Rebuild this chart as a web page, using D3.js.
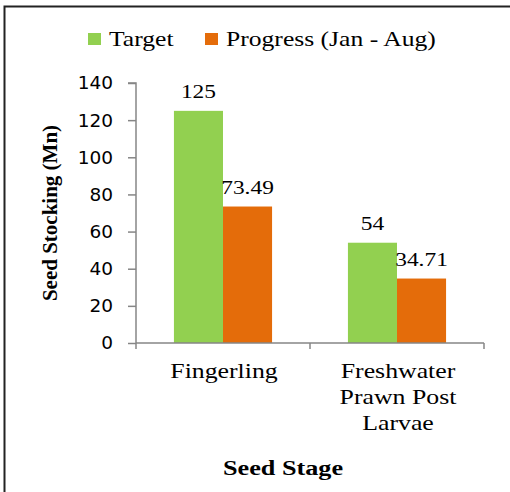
<!DOCTYPE html>
<html>
<head>
<meta charset="utf-8">
<script src="https://cdn.jsdelivr.net/npm/d3@7"></script>
<style>
  body { margin: 0; background: #fff; }
  svg { display: block; }
</style>
</head>
<body>
<svg id="chart" width="510" height="492"></svg>
<script>
// data
const stages = ["Fingerling", "Freshwater Prawn Post Larvae"];
const stageLines = [["Fingerling"], ["Freshwater", "Prawn Post", "Larvae"]];
const series = ["Target", "Progress (Jan - Aug)"];
const target = [125, 54];
const progress = [73.49, 34.71];
const valueLabels = [["125", "73.49"], ["54", "34.71"]];
const yTicks = [0, 20, 40, 60, 80, 100, 120, 140];

const GREEN = "#92d050";
const ORANGE = "#e46c0a";
const AXIS = "#868686";
const SERIF = "Liberation Serif";
const SANS = "DejaVu Sans";

const svg = d3.select("#chart");

// the source picture is stretched sideways, so serif text gets a x-scale
function label(x, y, txt, size, sx, anchor, bold) {
    return svg.append("text")
        .attr("transform", `translate(${x},${y}) scale(${sx},1)`)
        .attr("text-anchor", anchor)
        .attr("font-family", SERIF)
        .attr("font-size", size)
        .attr("font-weight", bold ? "bold" : "normal")
        .attr("fill", "#000")
        .text(txt);
}

// frame, only top and left edges show in the picture
svg.append("rect")
    .attr("x", 4.5).attr("y", 6.5)
    .attr("width", 600).attr("height", 600)
    .attr("fill", "none")
    .attr("stroke", "#222")
    .attr("stroke-width", 2);

const plotL = 136, plotR = 484, plotT = 83, plotB = 343;

const y = d3.scaleLinear().domain([0, 140]).range([plotB, plotT]);
const x0 = d3.scaleBand().domain(stages).range([plotL, plotR]).padding(0);
const bw = x0.bandwidth();
const x1 = d3.scaleBand().domain(series).range([bw * 0.218, bw * 0.782]).padding(0);

const values = [target, progress];
const colors = [GREEN, ORANGE];

// bars
stages.forEach((s, i) => {
    series.forEach((ser, j) => {
        const v = values[j][i];
        svg.append("rect")
            .attr("x", x0(s) + x1(ser))
            .attr("y", y(v))
            .attr("width", x1.bandwidth())
            .attr("height", y(0) - y(v))
            .attr("fill", colors[j]);
        label(x0(s) + x1(ser) + x1.bandwidth() / 2, y(v) - 13,
              valueLabels[i][j], 19.5, 1.2, "middle", false);
    });
});

// y axis
const yAxis = svg.append("g")
    .attr("transform", `translate(${plotL},0)`)
    .call(d3.axisLeft(y).tickValues(yTicks).tickSize(8).tickPadding(15));
yAxis.select(".domain").attr("stroke", AXIS).attr("stroke-width", 1.5)
    .attr("d", `M-8,${plotT}H0V${plotB + 6}`);
yAxis.selectAll(".tick line").attr("stroke", AXIS).attr("stroke-width", 1.5);
yAxis.selectAll(".tick text")
    .attr("font-family", SANS)
    .attr("font-size", 18.5)
    .attr("fill", "#000");

// x axis
const xAxis = svg.append("g")
    .attr("transform", `translate(0,${plotB})`);
xAxis.append("line")
    .attr("x1", plotL).attr("x2", plotR)
    .attr("stroke", AXIS).attr("stroke-width", 1.5);
[plotL + bw, plotR].forEach(t => {
    xAxis.append("line")
        .attr("x1", t).attr("x2", t).attr("y1", 0).attr("y2", 6)
        .attr("stroke", AXIS).attr("stroke-width", 1.5);
});

// category labels
stages.forEach((s, i) => {
    stageLines[i].forEach((ln, k) => {
        label(x0(s) + bw / 2 + 1, 378 + k * 26, ln, 21.5, 1.2, "middle", false);
    });
});

// axis titles
label(283, 475, "Seed Stage", 21.5, 1.22, "middle", true);

svg.append("text")
    .attr("transform", "translate(57,213) rotate(-90) scale(1.05,1)")
    .attr("text-anchor", "middle")
    .attr("font-family", SERIF)
    .attr("font-size", 20)
    .attr("font-weight", "bold")
    .text("Seed Stocking (Mn)");

// legend
const legendX = [88, 205];
series.forEach((ser, j) => {
    svg.append("rect")
        .attr("x", legendX[j]).attr("y", 33)
        .attr("width", 13).attr("height", 12)
        .attr("fill", colors[j]);
    label(legendX[j] + 21, 46, ser, 21, 1.22, "start", false);
});
</script>
</body>
</html>
